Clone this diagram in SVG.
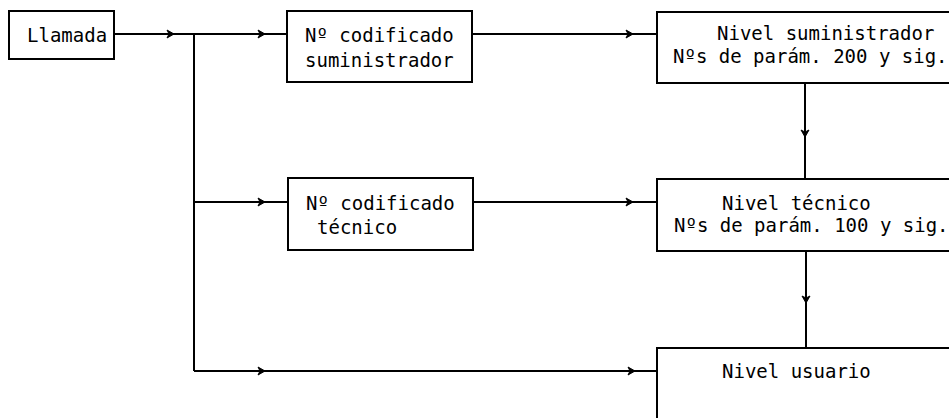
<svg xmlns="http://www.w3.org/2000/svg" width="949" height="418" viewBox="0 0 949 418">
<style>
.box{fill:#fff;stroke:#000;stroke-width:2}
.t{font-family:"DejaVu Sans Mono","Liberation Mono",monospace;font-size:19px;fill:#000}
.c{fill:none;stroke:#000;stroke-width:2;marker-mid:url(#arr)}
</style>
<defs>
<marker id="arr" markerUnits="userSpaceOnUse" markerWidth="12" markerHeight="12" viewBox="-8 -6 12 12" refX="0" refY="0" orient="auto">
<path d="M-7,-4 L0,0 L-7,4 L-5,0 Z" fill="#000" stroke="#000" stroke-width="1"/>
</marker>
</defs>
<rect width="949" height="418" fill="#fff"/>
<g id="connectors">
<path class="c" d="M114,34 H174 H194"/>
<path class="c" d="M194,34 H265 H287"/>
<path class="c" d="M194,34 V371"/>
<path class="c" d="M194,202 H265 H288"/>
<path class="c" d="M194,371 H265 H635 H657"/>
<path class="c" d="M472,34 H633 H657"/>
<path class="c" d="M473,202 H633 H657"/>
<path class="c" d="M805,83 V137 V179"/>
<path class="c" d="M806,251 V303 V348"/>
</g>
<g id="llamada">
<rect class="box" x="9" y="11" width="105" height="48"/>
<text class="t" x="27" y="42">Llamada</text>
</g>
<g id="cod-suministrador">
<rect class="box" x="287" y="11" width="185" height="71"/>
<text class="t" x="305" y="42">Nº codificado</text>
<text class="t" x="305" y="67">suministrador</text>
</g>
<g id="cod-tecnico">
<rect class="box" x="288" y="178" width="185" height="72"/>
<text class="t" x="306" y="210">Nº codificado</text>
<text class="t" x="317" y="234">técnico</text>
</g>
<g id="nivel-suministrador">
<rect class="box" x="657" y="12" width="310" height="71"/>
<text class="t" x="717" y="40">Nivel suministrador</text>
<text class="t" x="673" y="63">Nºs de parám. 200 y sig.</text>
</g>
<g id="nivel-tecnico">
<rect class="box" x="657" y="179" width="310" height="72"/>
<text class="t" x="722" y="210">Nivel técnico</text>
<text class="t" x="674" y="232">Nºs de parám. 100 y sig.</text>
</g>
<g id="nivel-usuario">
<rect class="box" x="657" y="348" width="310" height="90"/>
<text class="t" x="722" y="378">Nivel usuario</text>
</g>
</svg>
